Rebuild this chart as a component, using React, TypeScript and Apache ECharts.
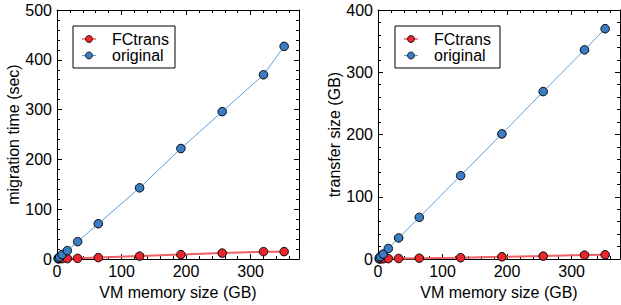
import React, { useEffect, useRef } from "react";
import * as echarts from "echarts";

const memorySizes = [2, 4, 8, 16, 32, 64, 128, 192, 256, 320, 352];
const timeFCtrans = [0.5, 1, 1, 1, 1.5, 3, 6, 9, 12, 15, 15];
const timeOriginal = [2, 4, 9, 17, 35, 71, 143, 222, 296, 370, 427];
const sizeFCtrans = [0.3, 0.5, 0.5, 0.8, 1, 1.5, 2.2, 3.7, 4.8, 6.4, 6.9];
const sizeOriginal = [2, 4, 8, 17, 34, 67, 134, 201, 269, 336, 370];
const seriesNames = ["FCtrans", "original"];
const xTitle = "VM memory size (GB)";
const yTitles = ["migration time (sec)", "transfer size (GB)"];
const yMax = [500, 400];
const xMax = 375;

const FONT = "Liberation Sans, Arial, Helvetica, sans-serif";
const RED = "#e8262b";
const RED_LINE = "#ee6064";
const BLUE = "#3a7dc2";
const BLUE_LINE = "#5a9edc";
const fills = [RED, BLUE];
const lines = [RED_LINE, BLUE_LINE];

function pairs(xs: number[], ys: number[]) {
  return xs.map((x, i) => [x, ys[i]]);
}

function legendGraphic(left: number, top: number, width: number) {
  const children: any[] = [
    {
      type: "rect",
      shape: { x: 0, y: 0, width, height: 42 },
      style: { fill: "#fff", stroke: "#000", lineWidth: 1 },
    },
  ];
  seriesNames.forEach((name, i) => {
    const cy = 13 + i * 16.5;
    children.push({
      type: "line",
      shape: { x1: 9, y1: cy, x2: 23, y2: cy },
      style: { stroke: lines[i], lineWidth: i === 0 ? 1.5 : 1 },
    });
    children.push({
      type: "circle",
      shape: { cx: 16, cy, r: 3.5 },
      style: { fill: fills[i], stroke: "#000", lineWidth: 0.8 },
    });
    children.push({
      type: "text",
      x: 39,
      y: cy,
      style: {
        text: name,
        fontFamily: FONT,
        fontSize: 16,
        fill: "#000",
        verticalAlign: "middle",
        align: "left",
      },
    });
  });
  return { type: "group", x: left, y: top, z: 10, children };
}

export default function App() {
  const ref = useRef<HTMLDivElement>(null);
  useEffect(() => {
    if (!ref.current) return;
    const chart = echarts.init(ref.current, undefined, { renderer: "svg" });
    const grids = [
      { left: 57, top: 10, width: 242, height: 250 },
      { left: 378, top: 10, width: 242, height: 250 },
    ];
    const xAxes: any[] = [];
    const yAxes: any[] = [];
    const lineStyle = { color: "#000", width: 1 };
    grids.forEach((_, g) => {
      xAxes.push({
        type: "value", gridIndex: g, position: "bottom", min: 0, max: xMax, interval: 100,
        name: xTitle, nameLocation: "middle", nameGap: 22,
        nameTextStyle: { fontFamily: FONT, fontSize: 16, color: "#000" },
        axisLine: { show: true, onZero: false, lineStyle },
        axisTick: { show: true, inside: true, length: 5, lineStyle },
        axisLabel: { show: true, margin: 4, showMaxLabel: false, fontFamily: FONT, fontSize: 16, color: "#000" },
        splitLine: { show: false },
      });
      xAxes.push({
        type: "value", gridIndex: g, position: "bottom", min: 0, max: xMax, interval: 20,
        axisLine: { show: false, onZero: false },
        axisTick: { show: true, inside: true, length: 3, lineStyle },
        axisLabel: { show: false }, splitLine: { show: false },
      });
      xAxes.push({
        type: "value", gridIndex: g, position: "top", min: 0, max: xMax, interval: 100,
        axisLine: { show: true, onZero: false, lineStyle },
        axisTick: { show: true, inside: true, length: 5, lineStyle },
        axisLabel: { show: false }, splitLine: { show: false },
      });
      xAxes.push({
        type: "value", gridIndex: g, position: "top", min: 0, max: xMax, interval: 20,
        axisLine: { show: false, onZero: false },
        axisTick: { show: true, inside: true, length: 3, lineStyle },
        axisLabel: { show: false }, splitLine: { show: false },
      });
      yAxes.push({
        type: "value", gridIndex: g, position: "left", min: 0, max: yMax[g], interval: 100,
        name: yTitles[g], nameLocation: "middle", nameGap: 32, nameRotate: 90,
        nameTextStyle: { fontFamily: FONT, fontSize: 16, color: "#000" },
        axisLine: { show: true, onZero: false, lineStyle },
        axisTick: { show: true, inside: true, length: 5, lineStyle },
        minorTick: { show: true, splitNumber: 5, length: 3, lineStyle },
        axisLabel: { show: true, margin: 5, fontFamily: FONT, fontSize: 16, color: "#000" },
        splitLine: { show: false },
      });
      yAxes.push({
        type: "value", gridIndex: g, position: "right", min: 0, max: yMax[g], interval: 100,
        axisLine: { show: true, onZero: false, lineStyle },
        axisTick: { show: true, inside: true, length: 5, lineStyle },
        minorTick: { show: true, splitNumber: 5, length: 3, lineStyle },
        axisLabel: { show: false }, splitLine: { show: false },
      });
    });

    const mk = (i: number, data: number[][], g: number, width: number) => ({
      type: "line", name: seriesNames[i], data, xAxisIndex: 4 * g, yAxisIndex: 2 * g,
      symbol: "circle", symbolSize: 8.5,
      itemStyle: { color: fills[i], borderColor: "#000", borderWidth: 1 },
      lineStyle: { color: lines[i], width },
      z: i === 1 ? 3 : 2,
    });

    const series = [
      mk(0, pairs(memorySizes, timeFCtrans), 0, 2),
      mk(1, pairs(memorySizes, timeOriginal), 0, 1),
      mk(0, pairs(memorySizes, sizeFCtrans), 1, 2),
      mk(1, pairs(memorySizes, sizeOriginal), 1, 1),
    ];

    chart.setOption({
      animation: false,
      backgroundColor: "#fff",
      grid: grids,
      xAxis: xAxes,
      yAxis: yAxes,
      graphic: [legendGraphic(73, 26, 102), legendGraphic(395, 26, 105)],
      series,
    });
    return () => chart.dispose();
  }, []);
  return (
    <div
      ref={ref}
      style={{ position: "fixed", left: 0, top: 0, width: 621, height: 305, background: "#fff" }}
    />
  );
}
